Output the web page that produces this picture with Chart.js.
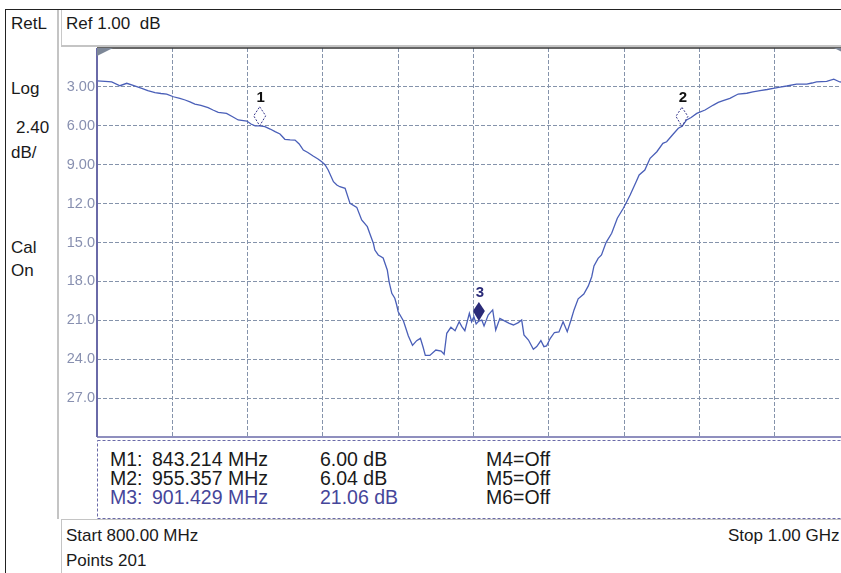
<!DOCTYPE html>
<html lang="en">
<head>
<meta charset="UTF-8">
<title>RetL 800 MHz - 1 GHz</title>
<script src="https://cdn.jsdelivr.net/npm/chart.js@4.4.1/dist/chart.umd.min.js"></script>
<style>
  html, body { margin: 0; padding: 0; overflow: hidden; background: #fff; }
  body { width: 841px; height: 573px; position: relative; font-family: 'Liberation Sans', Arial, sans-serif; color: #1a1a1a; }
  .ln { position: absolute; }
  .t { position: absolute; font-size: 17px; line-height: 17px; white-space: pre; }
  .m { position: absolute; font-size: 19.5px; line-height: 19.5px; white-space: pre; }
  .blue { color: #46469a; }
  #wrap { position: absolute; left: 0; top: 0; width: 860px; height: 573px; }
</style>
</head>
<body>
<!-- frame lines -->
<div class="ln" style="left:5px;top:9px;width:836px;height:1px;background:#222;"></div>
<div class="ln" style="left:5px;top:9px;width:1px;height:564px;background:#222;"></div>
<div class="ln" style="left:57px;top:10px;width:2px;height:509px;background:#c4c4c4;"></div>
<div class="ln" style="left:61px;top:10px;width:1px;height:37px;background:#c8c8c8;"></div>
<div class="ln" style="left:61px;top:45px;width:780px;height:2px;background:#c4c4c4;"></div>
<div class="ln" style="left:61px;top:519px;width:780px;height:1px;background:#c4c4c4;"></div>
<div class="ln" style="left:61px;top:519px;width:1px;height:54px;background:#c4c4c4;"></div>

<!-- side and header texts -->
<div class="t" style="left:11px;top:15px;">RetL</div>
<div class="t" style="left:66px;top:15px;">Ref 1.00  dB</div>
<div class="t" style="left:11px;top:80px;">Log</div>
<div class="t" style="left:16px;top:119px;">2.40</div>
<div class="t" style="left:11px;top:144px;">dB/</div>
<div class="t" style="left:11px;top:239px;">Cal</div>
<div class="t" style="left:11px;top:262px;">On</div>

<!-- marker readout -->
<div class="m" style="left:110px;top:450px;">M1:</div>
<div class="m" style="left:152px;top:450px;">843.214 MHz</div>
<div class="m" style="left:320px;top:450px;">6.00 dB</div>
<div class="m" style="left:486px;top:450px;">M4=Off</div>
<div class="m" style="left:110px;top:469px;">M2:</div>
<div class="m" style="left:152px;top:469px;">955.357 MHz</div>
<div class="m" style="left:320px;top:469px;">6.04 dB</div>
<div class="m" style="left:486px;top:469px;">M5=Off</div>
<div class="m blue" style="left:110px;top:488px;">M3:</div>
<div class="m blue" style="left:152px;top:488px;">901.429 MHz</div>
<div class="m blue" style="left:320px;top:488px;">21.06 dB</div>
<div class="m" style="left:486px;top:488px;">M6=Off</div>

<!-- footer -->
<div class="t" style="left:66px;top:527px;">Start 800.00 MHz</div>
<div class="t" style="left:66px;top:552px;">Points 201</div>
<div class="t" style="left:728px;top:527px;">Stop 1.00 GHz</div>

<div id="wrap"><canvas id="c" width="860" height="573"></canvas></div>

<script>
// trace (MHz, dB return loss)
const freqMHz = [800.0, 802.1, 803.9, 806.1, 807.9, 809.6, 811.9, 813.5, 815.4, 817.0,
  818.5, 820.3, 822.0, 823.4, 824.7, 826.0, 827.6, 829.5, 830.8, 832.2,
  834.4, 835.9, 837.5, 839.8, 840.9, 842.0, 843.2, 844.6, 846.0, 847.3,
  848.6, 849.9, 851.3, 852.6, 853.7, 854.8, 856.0, 857.4, 858.7, 859.7,
  860.6, 861.4, 862.8, 863.7, 864.5, 865.9, 867.2, 869.0, 870.3, 871.8,
  872.5, 873.4, 873.8, 874.7, 876.0, 877.1, 877.6, 878.3, 879.1, 879.6,
  880.0, 881.4, 882.7, 883.8, 884.9, 885.9, 886.6, 887.2, 888.4, 890.0,
  891.4, 892.2, 892.9, 894.0, 895.1, 896.2, 896.9, 897.7, 898.9, 899.5,
  900.1, 900.7, 901.4, 902.2, 902.8, 903.9, 905.1, 905.9, 907.0, 908.1,
  909.5, 910.6, 911.9, 912.8, 913.4, 914.6, 915.9, 916.8, 917.9, 918.7,
  919.4, 920.4, 921.5, 922.7, 923.8, 924.9, 925.9, 926.7, 927.8, 929.3,
  930.5, 931.4, 932.0, 933.1, 934.0, 935.2, 936.7, 938.2, 939.8, 940.8,
  941.6, 943.2, 944.0, 945.5, 946.9, 948.7, 950.3, 951.3, 952.6, 954.4,
  955.4, 956.6, 957.8, 959.3, 961.5, 963.7, 965.0, 966.3, 968.1, 970.3,
  972.6, 974.2, 976.1, 978.0, 979.6, 981.4, 983.2, 985.8, 988.5, 989.9,
  991.1, 993.8, 995.7, 997.3, 998.7, 1000.0];
const retLossDb = [2.54, 2.58, 2.62, 2.91, 2.72, 2.89, 3.11, 3.28, 3.45, 3.51,
  3.55, 3.76, 3.89, 4.01, 4.16, 4.32, 4.43, 4.60, 4.78, 4.96,
  5.04, 5.28, 5.55, 5.63, 5.86, 6.00, 6.00, 6.07, 6.25, 6.45,
  6.63, 7.04, 7.08, 7.10, 7.40, 7.87, 8.06, 8.33, 8.56, 8.77,
  9.02, 9.41, 10.31, 10.57, 10.70, 10.82, 11.98, 12.29, 13.26, 13.78,
  14.34, 15.06, 15.58, 15.96, 16.19, 17.12, 18.05, 18.92, 19.30, 19.82,
  20.34, 21.05, 22.21, 22.93, 22.57, 22.39, 23.06, 23.71, 23.71, 23.29,
  23.38, 23.62, 22.00, 21.54, 21.80, 21.11, 21.49, 21.80, 20.46, 21.11,
  20.72, 21.28, 21.06, 20.98, 21.44, 20.59, 20.20, 21.75, 20.85, 21.03,
  21.23, 21.36, 21.18, 20.98, 22.13, 22.52, 23.24, 23.03, 22.56, 23.03,
  22.98, 22.39, 21.94, 21.90, 21.11, 21.88, 20.98, 20.20, 19.34, 18.97,
  18.35, 17.64, 16.81, 16.22, 15.96, 15.01, 14.29, 13.13, 12.36, 11.80,
  11.34, 10.31, 9.79, 9.41, 8.51, 8.00, 7.35, 7.23, 6.79, 6.19,
  6.04, 5.55, 5.36, 5.04, 4.78, 4.40, 4.20, 4.06, 3.88, 3.55,
  3.49, 3.39, 3.29, 3.20, 3.11, 3.01, 2.93, 2.78, 2.78, 2.70,
  2.62, 2.57, 2.41, 2.62, 2.66, 2.70];

// markers
const markerLabels = ['1', '2', '3'];
const markerFreq = [843.214, 955.357, 901.429];
const markerDb = [6.00, 6.04, 21.06];
const markerActive = [false, false, true];

// y axis tick labels
const yTickValues = [3, 6, 9, 12, 15, 18, 21, 24, 27];
const yTickLabels = ['3.00', '6.00', '9.00', '12.0', '15.0', '18.0', '21.0', '24.0', '27.0'];

const gridColor = '#8593ab';
const frameBlue = '#6a6aa8';

const points = freqMHz.map((f, i) => ({ x: f, y: retLossDb[i] }));

// plot frame, reference triangles, marker box
const framePlugin = {
  id: 'frame',
  afterDatasetsDraw(chart) {
    const { ctx, chartArea: a } = chart;
    ctx.save();
    // marker readout box
    ctx.strokeStyle = frameBlue;
    ctx.lineWidth = 1;
    ctx.setLineDash([3, 2]);
    ctx.strokeRect(a.left + 0.5, a.bottom + 3.5, chart.width, 78);
    ctx.setLineDash([]);
    // bottom and left border
    ctx.lineWidth = 1.5;
    ctx.beginPath();
    ctx.moveTo(a.left, a.bottom);
    ctx.lineTo(chart.width, a.bottom);
    ctx.stroke();
    ctx.lineWidth = 2;
    ctx.beginPath();
    ctx.moveTo(a.left, a.top);
    ctx.lineTo(a.left, a.bottom);
    ctx.stroke();
    // top border
    ctx.strokeStyle = '#333';
    ctx.lineWidth = 1.5;
    ctx.beginPath();
    ctx.moveTo(a.left, a.top);
    ctx.lineTo(chart.width, a.top);
    ctx.stroke();
    // reference level triangles
    ctx.fillStyle = '#7d8797';
    ctx.beginPath();
    ctx.moveTo(a.left, a.top);
    ctx.lineTo(a.left + 16, a.top);
    ctx.lineTo(a.left, a.top + 8);
    ctx.closePath();
    ctx.fill();
    ctx.beginPath();
    ctx.moveTo(a.right, a.top);
    ctx.lineTo(a.right - 16, a.top);
    ctx.lineTo(a.right, a.top + 8);
    ctx.closePath();
    ctx.fill();
    ctx.restore();
  }
};

const markerPlugin = {
  id: 'markers',
  afterDatasetsDraw(chart) {
    const { ctx, scales: { x, y } } = chart;
    ctx.save();
    markerFreq.forEach((f, i) => {
      const px = x.getPixelForValue(f);
      const py = y.getPixelForValue(markerDb[i]);
      ctx.beginPath();
      ctx.moveTo(px, py - 19);
      ctx.lineTo(px + 6, py - 10);
      ctx.lineTo(px, py);
      ctx.lineTo(px - 6, py - 10);
      ctx.closePath();
      if (markerActive[i]) {
        ctx.fillStyle = '#2b2b78';
        ctx.fill();
      } else {
        ctx.strokeStyle = '#34348a';
        ctx.lineWidth = 1;
        ctx.setLineDash([2, 1.5]);
        ctx.stroke();
        ctx.setLineDash([]);
      }
      ctx.fillStyle = markerActive[i] ? '#2b2b78' : '#111';
      ctx.font = 'bold 15px "Liberation Sans"';
      ctx.textAlign = 'center';
      ctx.textBaseline = 'alphabetic';
      ctx.fillText(markerLabels[i], px + 1, py - 24);
    });
    ctx.restore();
  }
};

const ctx = document.getElementById('c').getContext('2d');
new Chart(ctx, {
  type: 'line',
  data: {
    datasets: [{
      data: points,
      borderColor: '#4a5fb8',
      borderWidth: 1.3,
      pointRadius: 0,
      tension: 0,
      fill: false
    }]
  },
  options: {
    responsive: false,
    animation: false,
    devicePixelRatio: 1,
    layout: { padding: { left: 57, top: 48, right: 10, bottom: 136 } },
    plugins: { legend: { display: false }, tooltip: { enabled: false } },
    scales: {
      x: {
        type: 'linear',
        min: 800,
        max: 1000,
        ticks: { stepSize: 20, display: false },
        grid: {
          drawTicks: false,
          lineWidth: 1,
          color: (c) => (c.tick && (c.tick.value === 800 || c.tick.value === 1000)) ? 'rgba(0,0,0,0)' : gridColor
        },
        border: { display: false, dash: [4, 2] },
        afterFit(s) { s.height = 0; }
      },
      y: {
        reverse: true,
        min: 0,
        max: 30,
        ticks: {
          stepSize: 3,
          padding: 2,
          color: '#8890b0',
          font: { family: 'Liberation Sans', size: 14.5 },
          callback: (v) => {
            const i = yTickValues.indexOf(v);
            return i >= 0 ? yTickLabels[i] : '';
          }
        },
        grid: {
          drawTicks: false,
          lineWidth: 1,
          color: (c) => (c.tick && (c.tick.value === 0 || c.tick.value === 30)) ? 'rgba(0,0,0,0)' : gridColor
        },
        border: { display: false, dash: [4, 2] },
        afterFit(s) { s.width = 40; }
      }
    }
  },
  plugins: [framePlugin, markerPlugin]
});
</script>
</body>
</html>
